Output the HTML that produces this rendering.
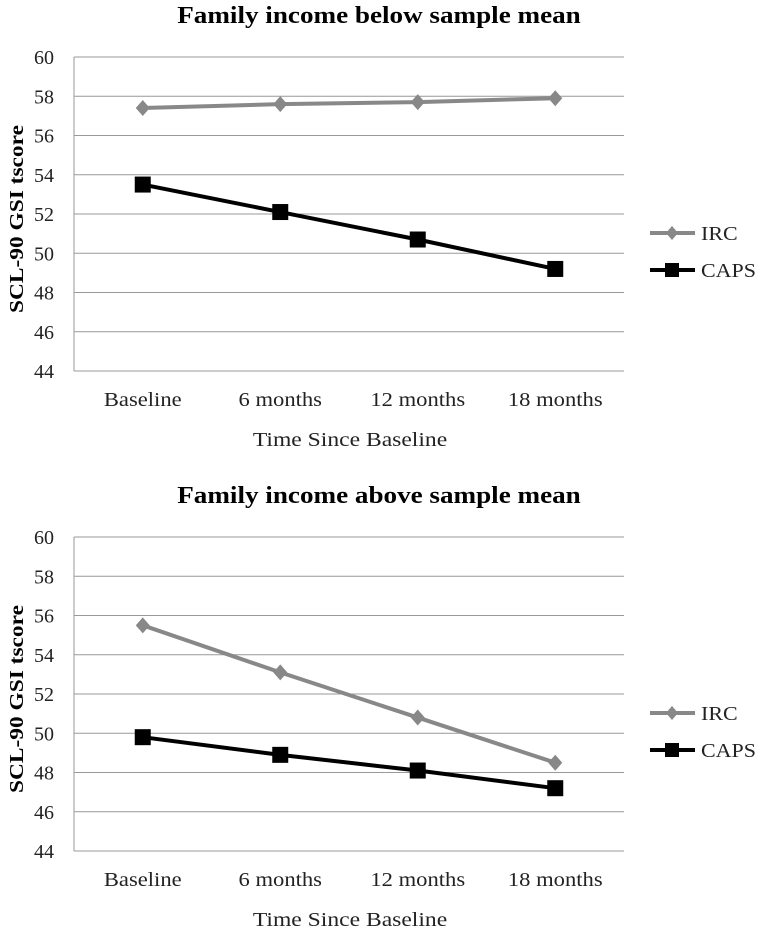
<!DOCTYPE html>
<html><head><meta charset="utf-8"><style>
body{margin:0;background:#fff;}
svg{display:block;font-family:"Liberation Serif",serif;}
</style></head><body>
<svg id="chart" width="762" height="933"></svg>
<script>
const categories=["Baseline","6 months","12 months","18 months"];
const yTicks=[44,46,48,50,52,54,56,58,60];
const titles=["Family income below sample mean","Family income above sample mean"];
const ircTop=[57.4,57.6,57.7,57.9];
const capsTop=[53.5,52.1,50.7,49.2];
const ircBottom=[55.5,53.1,50.8,48.5];
const capsBottom=[49.8,48.9,48.1,47.2];
const panels=[{irc:ircTop,caps:capsTop,off:0,name:"top"},{irc:ircBottom,caps:capsBottom,off:480,name:"bottom"}];
const NS="http://www.w3.org/2000/svg";
const svg=document.getElementById('chart');
function mk(tag,attrs,parent,text){const e=document.createElementNS(NS,tag);for(const k in attrs)e.setAttribute(k,attrs[k]);if(text!==undefined)e.textContent=text;parent.appendChild(e);return e;}
function txt(parent,x,y,str,size,anchor,weight,sx,rot){
  const tr=`translate(${x},${y})`+(rot?` rotate(${rot})`:'')+` scale(${sx},1)`;
  return mk('text',{x:0,y:0,transform:tr,'text-anchor':anchor,'font-size':size,'font-weight':weight,fill:'#222'},parent,str);
}
panels.forEach((p,pi)=>{
  const g=mk('g',{},svg);
  
  
  const L=74,R=624,T=57+p.off,B=371+p.off;
  const y=v=>B-(v-44)/16*(B-T);
  const x=i=>L+(i+0.5)*(R-L)/categories.length;
  const t=txt(g,379,23+p.off,titles[pi],24,'middle','bold',1.13);
  t.setAttribute('fill','#000');
  
  
  yTicks.forEach(v=>{
    const ln=mk('line',{x1:L,x2:R,y1:y(v),y2:y(v),stroke:'#999','stroke-width':1},g);
    
    
    const tl=txt(g,54,y(v)+7,String(v),20,'end','normal',1);
    
    
  });
  const ax=mk('line',{x1:L,x2:L,y1:T,y2:B,stroke:'#999','stroke-width':1},g);
  
  
  categories.forEach((c,i)=>{
    const cl=txt(g,x(i),406+p.off,c,20,'middle','normal',1.13);
    
    
  });
  const xt=txt(g,350,446+p.off,'Time Since Baseline',20,'middle','normal',1.18);
  
  
  const yt=txt(g,23,219+p.off,'SCL-90 GSI tscore',20,'middle','bold',1.17,-90);
  yt.setAttribute('fill','#000');
  
  
  const ip=mk('polyline',{points:p.irc.map((v,i)=>x(i)+','+y(v)).join(' '),fill:'none',stroke:'#888','stroke-width':4},g);
  
  
  p.irc.forEach((v,i)=>{
    const d=mk('polygon',{points:`${x(i)},${y(v)-8} ${x(i)+7},${y(v)} ${x(i)},${y(v)+8} ${x(i)-7},${y(v)}`,fill:'#888'},g);
    
    
  });
  const cp=mk('polyline',{points:p.caps.map((v,i)=>x(i)+','+y(v)).join(' '),fill:'none',stroke:'#000','stroke-width':4},g);
  
  
  p.caps.forEach((v,i)=>{
    const s=mk('rect',{x:x(i)-8,y:y(v)-8,width:16,height:16,fill:'#000'},g);
    
    
  });
  const ly1=233+p.off,ly2=270+p.off;
  const lg=mk('g',{},g);
  
  
  mk('line',{x1:650,x2:695,y1:ly1,y2:ly1,stroke:'#888','stroke-width':4},lg);
  mk('polygon',{points:`672,${ly1-7} 678,${ly1} 672,${ly1+7} 666,${ly1}`,fill:'#888'},lg);
  const l1=txt(lg,701,ly1+7,'IRC',20,'start','normal',1.1);
  
  
  mk('line',{x1:650,x2:695,y1:ly2,y2:ly2,stroke:'#000','stroke-width':4},lg);
  mk('rect',{x:665,y:ly2-7,width:14,height:14,fill:'#000'},lg);
  const l2=txt(lg,701,ly2+7,'CAPS',20,'start','normal',1.1);
  
  
});
</script>
</body></html>
